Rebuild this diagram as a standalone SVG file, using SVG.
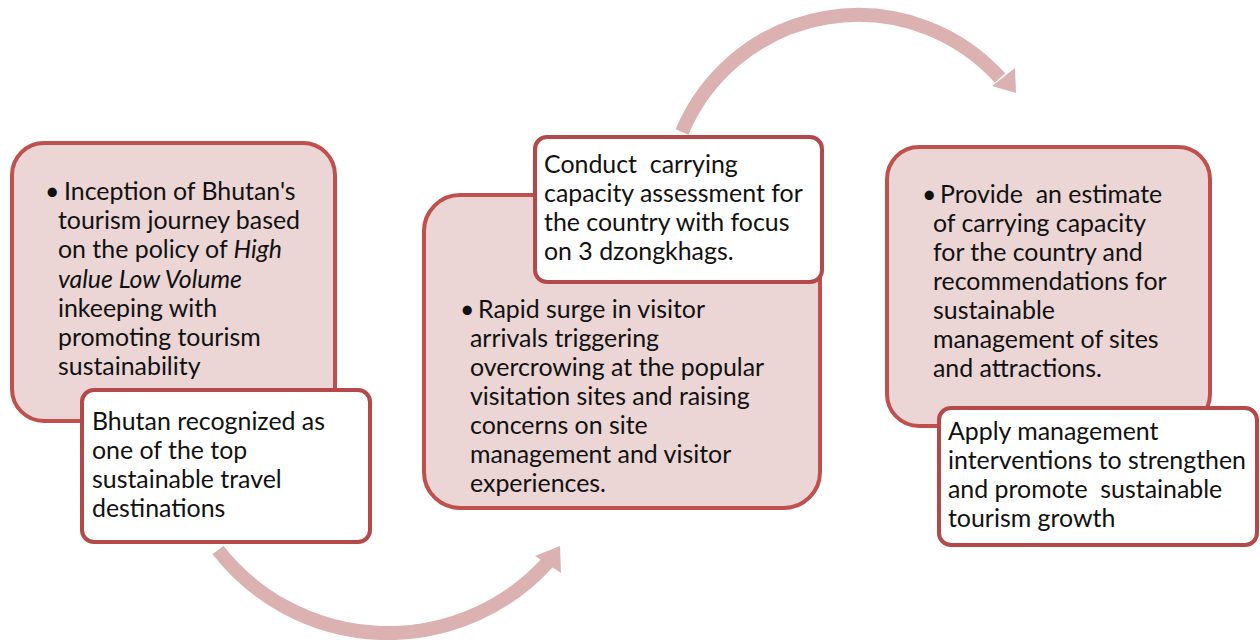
<svg xmlns="http://www.w3.org/2000/svg" width="1260" height="640" viewBox="0 0 1260 640">
  <style>
    .stage { fill: #ebd5d5; stroke: #c0504d; stroke-width: 4; }
    .note { fill: #ffffff; stroke: #b4494a; stroke-width: 4; }
    .flow { fill: none; stroke: #dcb1b1; stroke-width: 14; }
    .head { fill: #dcb1b1; }
    text { font-family: Lato, "Open Sans", "Liberation Sans", sans-serif; font-size: 24.9px; fill: #111111; }
  </style>

  <!-- curved flow arrows between stages -->
  <g id="connectors">
    <path class="flow" d="M218,550 A215.5,215.5 0 0 0 548,562"/>
    <polygon class="head" points="535,556 560,546 561,573"/>
    <path class="flow" d="M682,132 A191,191 0 0 1 1000,78"/>
    <polygon class="head" points="992,86 1015,68 1016,93"/>
  </g>

  <!-- stage 1 -->
  <g id="stage1">
    <rect class="stage" x="12" y="143" width="323" height="278" rx="32"/>
    <text x="45" y="200">•</text>
    <text x="64" y="200">Inception of Bhutan's</text>
    <text x="58" y="229">tourism journey based</text>
    <text x="58" y="258">on the policy of <tspan font-style="italic">High</tspan></text>
    <text x="58" y="288" font-style="italic">value Low Volume</text>
    <text x="58" y="317">inkeeping with</text>
    <text x="58" y="346">promoting tourism</text>
    <text x="58" y="375">sustainability</text>
  </g>
  <g id="note1">
    <rect class="note" x="82" y="390" width="288" height="152" rx="12"/>
    <text x="92" y="430">Bhutan recognized as</text>
    <text x="92" y="459">one of the top</text>
    <text x="92" y="488">sustainable travel</text>
    <text x="92" y="517">destinations</text>
  </g>

  <!-- stage 2 -->
  <g id="stage2">
    <rect class="stage" x="424" y="195" width="396" height="313" rx="36"/>
    <text x="460" y="318">•</text>
    <text x="478" y="318">Rapid surge in visitor</text>
    <text x="470" y="347">arrivals triggering</text>
    <text x="470" y="376">overcrowing at the popular</text>
    <text x="470" y="405">visitation sites and raising</text>
    <text x="470" y="434">concerns on site</text>
    <text x="470" y="463">management and visitor</text>
    <text x="470" y="492">experiences.</text>
  </g>
  <g id="note2">
    <rect class="note" x="535" y="137" width="287" height="145" rx="12"/>
    <text x="544" y="173" xml:space="preserve">Conduct  carrying</text>
    <text x="544" y="202">capacity assessment for</text>
    <text x="544" y="231">the country with focus</text>
    <text x="544" y="260">on 3 dzongkhags.</text>
  </g>

  <!-- stage 3 -->
  <g id="stage3">
    <rect class="stage" x="887" y="147" width="323" height="279" rx="32"/>
    <text x="922" y="203">•</text>
    <text x="940" y="203" xml:space="preserve">Provide  an estimate</text>
    <text x="933" y="232">of carrying capacity</text>
    <text x="933" y="261">for the country and</text>
    <text x="933" y="290">recommendations for</text>
    <text x="933" y="319">sustainable</text>
    <text x="933" y="348">management of sites</text>
    <text x="933" y="377">and attractions.</text>
  </g>
  <g id="note3">
    <rect class="note" x="939" y="408" width="318" height="137" rx="12"/>
    <text x="948" y="440">Apply management</text>
    <text x="948" y="469">interventions to strengthen</text>
    <text x="948" y="498" xml:space="preserve">and promote  sustainable</text>
    <text x="948" y="527">tourism growth</text>
  </g>
</svg>
